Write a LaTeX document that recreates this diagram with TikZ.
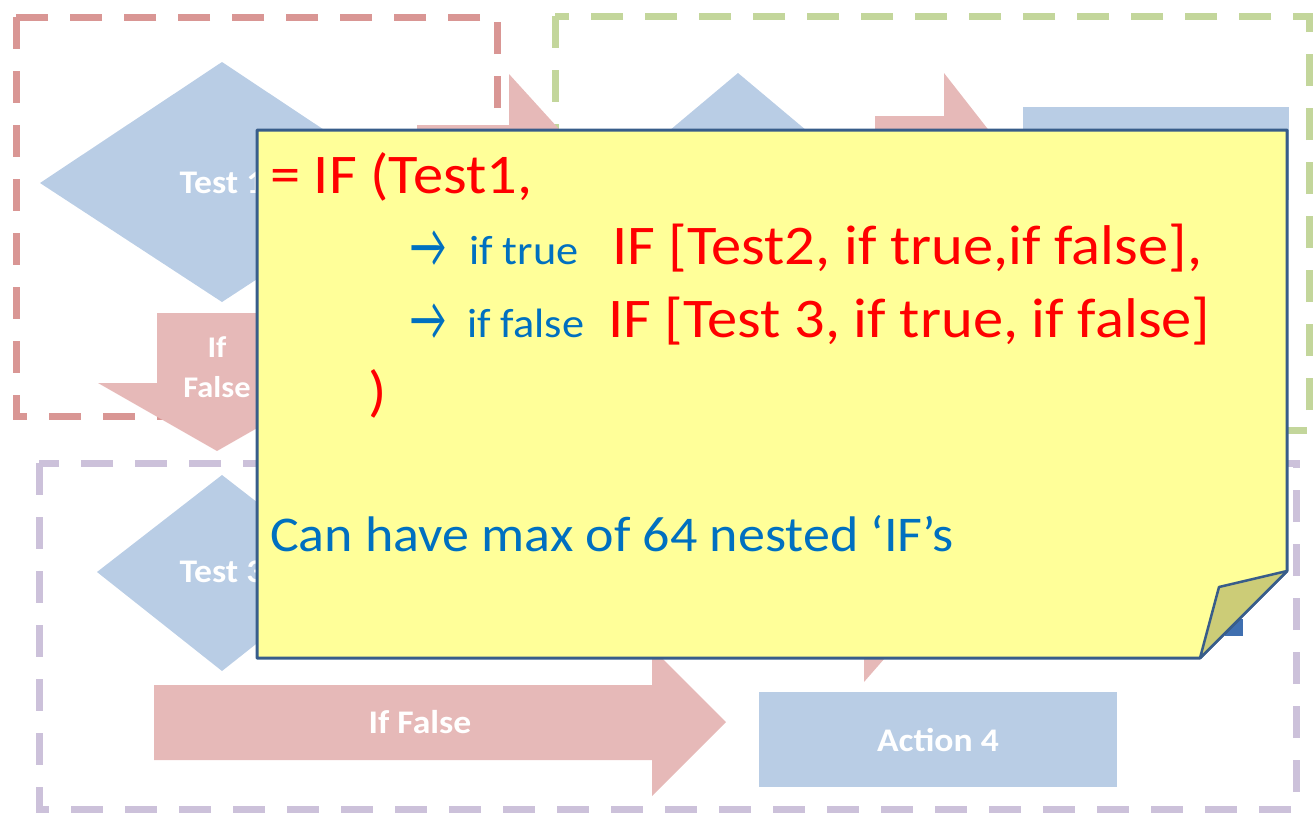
\documentclass[tikz,border=0pt]{standalone}
\usepackage{fontspec}
\setmainfont{Carlito}[FakeStretch=1.08]
\newfontfamily\arrowfont{Carlito}[FakeStretch=0.62]
\usepackage{xcolor}
\definecolor{paleblue}{HTML}{B9CDE5}
\definecolor{palepink}{HTML}{E6B9B8}
\definecolor{dashred}{HTML}{D99694}
\definecolor{dashgreen}{HTML}{C3D69B}
\definecolor{dashpurple}{HTML}{CCC1DA}
\definecolor{noteyellow}{HTML}{FFFF99}
\definecolor{noteedge}{HTML}{385D8A}
\definecolor{foldolive}{HTML}{CCCC77}
\definecolor{textblue}{HTML}{0070C0}
\definecolor{backblue}{HTML}{3F6FB0}
\tikzset{
  groupbox/.style={line width=7pt, dash pattern=on 32pt off 22pt},
  shapetext/.style={text=white, font=\fontsize{33}{36}\selectfont\bfseries, inner sep=0pt},
  redtext/.style={text=red, font=\fontsize{56}{60}\selectfont, anchor=base west, inner sep=0pt},
  bluetext/.style={text=textblue, font=\fontsize{41}{46}\selectfont, anchor=base west, inner sep=0pt},
  bluearrow/.style={text=textblue, font=\arrowfont\fontsize{64}{66}\selectfont, anchor=base west, inner sep=0pt},
  notetext/.style={text=textblue, font=\fontsize{50}{54}\selectfont, anchor=base west, inner sep=0pt}
}
\begin{document}
\begin{tikzpicture}[x=1pt,y=-1pt]
        \useasboundingbox (0,0) rectangle (1315,836);
        % dashed groups
        \draw[groupbox, dashred] (16,17) rectangle (497,416);
        \draw[groupbox, dashgreen] (555,16) rectangle (1309,430);
        \draw[groupbox, dashpurple] (39,463) rectangle (1296,809);
        % first test
        \fill[paleblue] (40,183) -- (222,62) -- (404,183) -- (222,302) -- cycle;
        \node[shapetext](test1) at (222,183) {Test 1};
        \fill[palepink] (157,313) -- (277,313) -- (277,383) -- (336,383) -- (217,451) -- (98,383) -- (157,383) -- cycle;
        \node[shapetext, font=\fontsize{30}{40}\selectfont\bfseries, align=center](false1) at (217,367) {If\\False};
        \fill[palepink] (417,125) -- (509,125) -- (509,74) -- (608,183) -- (509,292) -- (509,241) -- (417,241) -- cycle;
        % second test
        \fill[paleblue] (607,183) -- (738,73) -- (869,183) -- (738,293) -- cycle;
        \fill[palepink] (875,116) -- (944,116) -- (944,73) -- (1030,183) -- (944,293) -- (944,250) -- (875,250) -- cycle;
        \fill[paleblue] (1023,107) rectangle (1289,200);
        % third test
        \fill[paleblue] (97,572) -- (222,475) -- (347,572) -- (222,671) -- cycle;
        \node[shapetext](test3) at (222,572) {Test 3};
        \fill[palepink] (790,520) -- (864,520) -- (864,462) -- (960,572) -- (864,682) -- (864,624) -- (790,624) -- cycle;
        \fill[palepink] (154,685) -- (652,685) -- (652,648) -- (726,722) -- (652,796) -- (652,760) -- (154,760) -- cycle;
        \node[shapetext](false3) at (420,722) {If False};
        \fill[paleblue] (759,692) rectangle (1117,787);
        \node[shapetext](action4) at (938,740) {Action 4};
        \fill[backblue] (1225,619) rectangle (1243,636);
        % sticky note
        \draw[noteedge, fill=noteyellow, line width=3pt, line join=round] (257,130) -- (1287,130) -- (1287,571) -- (1200,658) -- (257,658) -- cycle;
        \draw[noteedge, fill=foldolive, line width=2.5pt, line join=round] (1200,658) -- (1219,587) -- (1287,571) -- cycle;
        \node[redtext](line1) at (270,193) {= IF (Test1,};
        \node[bluearrow](arrow1) at (410,267) {→};
        \node[bluetext](true) at (469,264) {if true};
        \node[redtext](iftrue) at (612,264) {IF [Test2, if true,if false],};
        \node[bluearrow](arrow2) at (410,340) {→};
        \node[bluetext](false) at (467,337) {if false};
        \node[redtext](iffalse) at (608,337) {IF [Test 3, if true, if false]};
        \node[redtext](close) at (368,410) {)};
        \node[notetext](maxif) at (270,551) {Can have max of 64 nested ‘IF’s};
        \end{tikzpicture}
\end{document}
